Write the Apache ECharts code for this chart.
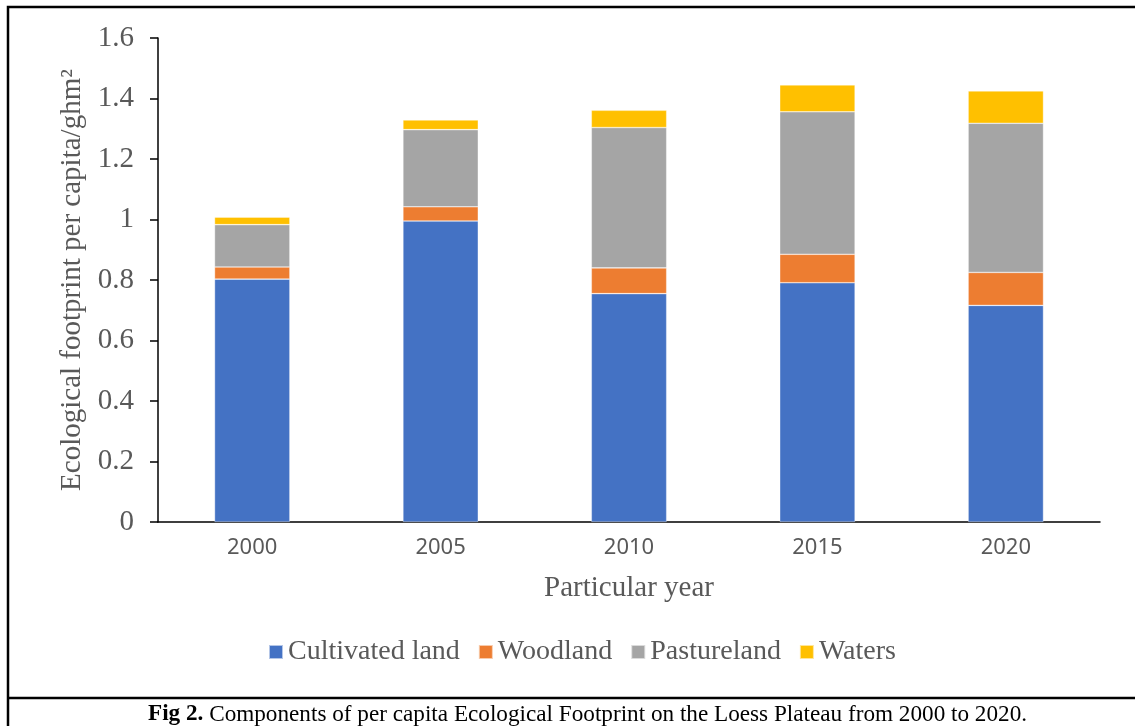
<!DOCTYPE html>
<html>
<head>
<meta charset="utf-8">
<script src="https://cdn.jsdelivr.net/npm/echarts@6/dist/echarts.min.js"></script>
<style>
  html, body { margin: 0; padding: 0; background: #fff; }
  #chart { width: 1135px; height: 726px; }
</style>
</head>
<body>
<div id="chart"></div>
<script>
const years = ['2000', '2005', '2010', '2015', '2020'];
const cultivated = [0.803, 0.995, 0.755, 0.791, 0.716];
const woodland = [0.040, 0.047, 0.085, 0.094, 0.109];
const pasture = [0.140, 0.255, 0.464, 0.471, 0.493];
const waters = [0.025, 0.032, 0.057, 0.089, 0.107];
const yTicks = [0, 0.2, 0.4, 0.6, 0.8, 1, 1.2, 1.4, 1.6];

const chart = echarts.init(document.getElementById('chart'));
const serif = '"Liberation Serif", "Times New Roman", serif';

function barSeries(name, data, color) {
  return {
    name: name,
    type: 'bar',
    stack: 'total',
    barCategoryGap: '60%',
    data: data,
    itemStyle: { color: color, borderColor: 'rgba(255,255,255,0.6)', borderWidth: 0.6 },
  };
}

const option = {
  animation: false,
  grid: { left: 158, top: 38, right: 35, bottom: 204 },
  legend: {
    top: 633,
    left: 263,
    itemWidth: 14,
    itemHeight: 14,
    itemGap: 18,
    icon: 'rect',
    textStyle: { fontFamily: serif, fontSize: 28, color: '#595959' },
    data: ['Cultivated land', 'Woodland', 'Pastureland', 'Waters'],
  },
  xAxis: {
    type: 'category',
    data: years,
    name: 'Particular year',
    nameLocation: 'middle',
    nameGap: 52,
    nameTextStyle: { fontFamily: serif, fontSize: 29, color: '#595959' },
    axisLine: { lineStyle: { color: '#000', width: 1.5 } },
    axisTick: { show: false },
    axisLabel: { margin: 15, fontFamily: '"Noto Sans", sans-serif', fontSize: 22, color: '#595959' },
  },
  yAxis: {
    type: 'value',
    min: 0,
    max: 1.6,
    interval: 0.2,
    name: 'Ecological footprint per capita/ghm²',
    nameLocation: 'middle',
    nameGap: 68,
    nameTextStyle: { fontFamily: serif, fontSize: 29, color: '#595959' },
    splitLine: { show: false },
    axisLine: { show: true, lineStyle: { color: '#000', width: 1.5 } },
    axisTick: { show: true, length: 8, lineStyle: { color: '#000', width: 1.5 } },
    axisLabel: {
      margin: 24,
      fontFamily: serif,
      fontSize: 29,
      color: '#595959',
      formatter: function (v) {
        const t = yTicks.find(function (k) { return Math.abs(k - v) < 1e-9; });
        return t === undefined ? '' : String(t);
      },
    },
  },
  graphic: [
    { type: 'polyline', shape: { points: [[8, 726], [8, 7], [1140, 7]] }, style: { stroke: '#000', lineWidth: 2.5, fill: null } },
    { type: 'line', shape: { x1: 8, y1: 698, x2: 1135, y2: 698 }, style: { stroke: '#000', lineWidth: 2.5 } },
    {
      type: 'text',
      left: 148,
      top: 703,
      style: {
        text: '{b|Fig 2.} Components of per capita Ecological Footprint on the Loess Plateau from 2000 to 2020.',
        rich: { b: { fontFamily: serif, fontSize: 23.2, fontWeight: 'bold', fill: '#000' } },
        font: '23.2px ' + serif,
        fill: '#000',
      },
    },
  ],
  series: [
    barSeries('Cultivated land', cultivated, '#4472c4'),
    barSeries('Woodland', woodland, '#ed7d31'),
    barSeries('Pastureland', pasture, '#a5a5a5'),
    barSeries('Waters', waters, '#ffc000'),
  ],
};

chart.setOption(option);
</script>
</body>
</html>
